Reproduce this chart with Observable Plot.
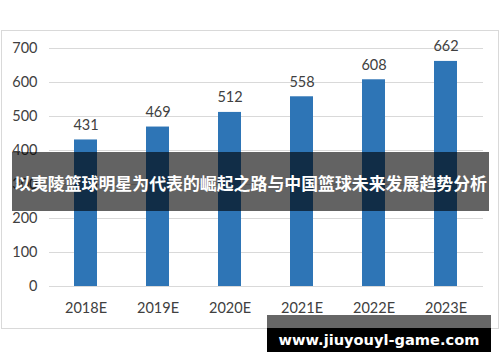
<!DOCTYPE html>
<html><head><meta charset="utf-8">
<script src="https://cdn.jsdelivr.net/npm/d3@7"></script>
<script src="https://cdn.jsdelivr.net/npm/@observablehq/plot@0.6"></script>
<style>
html,body{margin:0;padding:0;background:#fff;}
#wrap{position:relative;width:500px;height:362px;overflow:hidden;background:#fff;}
#frame{position:absolute;left:1px;top:30px;width:496px;height:297px;border:1px solid #d9d9d9;pointer-events:none;}
#banner{position:absolute;left:12px;top:152px;width:477px;height:59px;background:rgba(0,0,0,0.61);color:#fff;
  font-family:"Noto Sans CJK SC",sans-serif;font-weight:bold;font-size:16.9px;line-height:61px;text-align:center;white-space:nowrap;}
#wm1{position:absolute;left:267px;top:315px;width:224px;height:13px;background:rgba(0,0,0,0.6);}
#wm2{position:absolute;left:267px;top:328px;width:224px;height:24px;background:#000;}
#wmt{position:absolute;left:267px;top:315px;width:224px;height:37px;color:#fff;font-family:"DejaVu Sans",sans-serif;
  font-weight:bold;font-size:14.6px;text-align:center;line-height:37px;padding-top:6px;box-sizing:border-box;white-space:nowrap;}
svg{position:absolute;left:0;top:0;}
</style></head><body><div id="wrap"></div>
<script>
const years = ["2018E","2019E","2020E","2021E","2022E","2023E"];
const values = [431,469,512,558,608,662];
const yTicks = [0,100,200,300,400,500,600,700];
const title = "以夷陵篮球明星为代表的崛起之路与中国篮球未来发展趋势分析";
const watermark = "www.jiuyouyl-game.com";

const data = years.map((y,i)=>({year:y, value:values[i]}));
const chart = Plot.plot({
  width:500, height:362, marginLeft:49, marginRight:17, marginTop:48, marginBottom:76,
  style:{fontFamily:"Lato, sans-serif", fontSize:"14.5px", color:"#404040", background:"transparent"},
  x:{domain:years, paddingInner:0.68, paddingOuter:0.34, label:null, tickSize:0, tickPadding:16},
  y:{domain:[0,700], ticks:yTicks, label:null, tickSize:0, tickPadding:12},
  marks:[
    Plot.ruleY(yTicks, {stroke:"#d9d9d9", strokeOpacity:1}),
    Plot.barY(data, {x:"year", y:"value", fill:"#2e75b6"}),
    Plot.text(data, {x:"year", y:"value", text:d=>String(d.value), dy:-10, lineAnchor:"bottom", fill:"#404040", fontSize:14.5})
  ]
});
const wrap = document.getElementById("wrap");
wrap.appendChild(chart);
const frame = document.createElement("div"); frame.id="frame"; wrap.appendChild(frame);
const banner = document.createElement("div"); banner.id="banner"; banner.textContent=title; wrap.appendChild(banner);
const w1 = document.createElement("div"); w1.id="wm1"; wrap.appendChild(w1);
const w2 = document.createElement("div"); w2.id="wm2"; wrap.appendChild(w2);
const wt = document.createElement("div"); wt.id="wmt"; wt.textContent=watermark; wrap.appendChild(wt);
</script>
</body></html>
